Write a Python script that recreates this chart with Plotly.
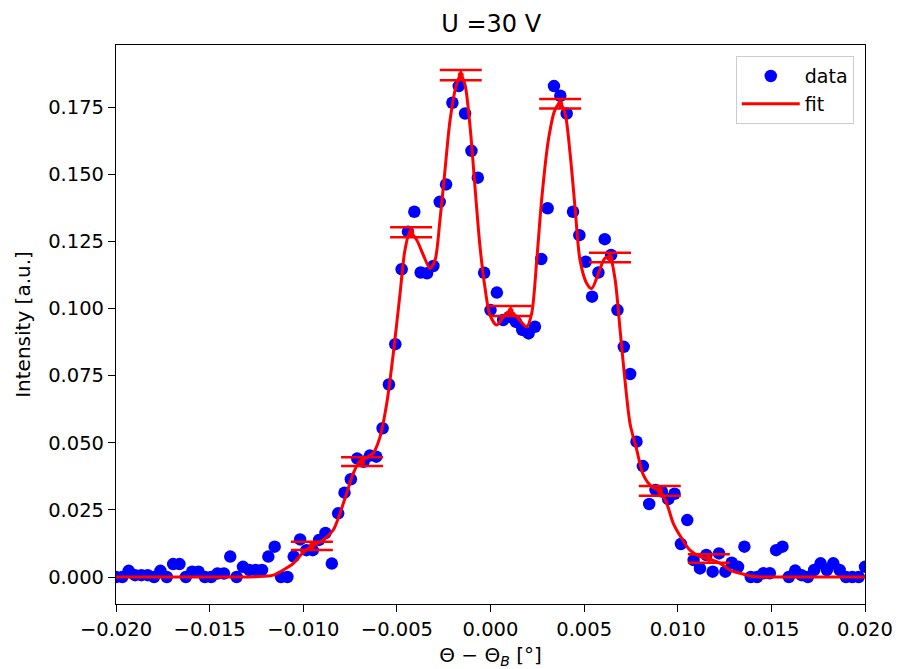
import numpy as np
import plotly.graph_objects as go

# measurement grid (degrees), 119 samples from -0.02 to 0.02
theta = np.linspace(-0.02, 0.02, 119)

intensity = [
    0.0, 0.0, 0.0023, 0.0007, 0.0007, 0.0007, 0.0, 0.0023, 0.0, 0.0048,
    0.0048, 0.0, 0.002, 0.002, 0.0, 0.0, 0.0013, 0.0013, 0.0076, 0.0,
    0.0038, 0.0026, 0.0026, 0.0026, 0.0076, 0.0113, 0.0, 0.0, 0.0076, 0.014,
    0.010, 0.010, 0.0138, 0.0164, 0.005, 0.0237, 0.0314, 0.0364, 0.0441, 0.0429,
    0.0452, 0.0448, 0.0554, 0.0717, 0.0867, 0.1146, 0.1286, 0.136, 0.1134, 0.1131,
    0.1158, 0.1397, 0.1462, 0.1766, 0.1828, 0.1726, 0.1587, 0.1487, 0.1133, 0.0994,
    0.1059, 0.0957, 0.0969, 0.095, 0.092, 0.0907, 0.0932, 0.1184, 0.1373, 0.1828,
    0.1792, 0.1726, 0.136, 0.1273, 0.1174, 0.1044, 0.1134, 0.1258, 0.1199, 0.0994,
    0.0857, 0.0756, 0.0504, 0.0413, 0.0272, 0.0324, 0.0318, 0.029, 0.031, 0.0123,
    0.0212, 0.0063, 0.0032, 0.0082, 0.002, 0.0088, 0.002, 0.0053, 0.0038, 0.0113,
    0.0, 0.0, 0.0014, 0.0014, 0.010, 0.0113, 0.0, 0.0024, 0.0007, 0.0,
    0.0026, 0.0051, 0.0026, 0.0051, 0.0026, 0.0, 0.0, 0.0, 0.0038,
]

fit_x = [
    -0.020, -0.0140, -0.0125, -0.0116, -0.01107, -0.01053, -0.0100, -0.00955,
    -0.00893, -0.0084, -0.00804, -0.00768, -0.00733, -0.00697, -0.00660, -0.00626,
    -0.0059, -0.00554, -0.00519, -0.00483, -0.00457, -0.0043, -0.00394, -0.00359,
    -0.00323, -0.00296, -0.0027, -0.00243, -0.00216, -0.0018, -0.00159, -0.00136,
    -0.00109, -0.00083, -0.00056, -0.00029, -0.00003, 0.00033, 0.00068, 0.00104,
    0.0014, 0.00193, 0.0022, 0.00247, 0.00273, 0.00309, 0.00344, 0.00371,
    0.00398, 0.00425, 0.00451, 0.00478, 0.00514, 0.0054, 0.00576, 0.00611,
    0.00638, 0.00665, 0.00692, 0.00718, 0.00745, 0.00781, 0.00816, 0.00861,
    0.00905, 0.00941, 0.00976, 0.01021, 0.01065, 0.01119, 0.01172, 0.01226,
    0.01279, 0.01332, 0.0138, 0.01422, 0.0150, 0.020,
]
fit_y = [
    0.0, 0.0, 0.0001, 0.0007, 0.0026, 0.0051, 0.0092, 0.0114,
    0.0138, 0.0175, 0.0237, 0.0312, 0.0386, 0.0432, 0.0445, 0.0462,
    0.0522, 0.0647, 0.0833, 0.1056, 0.1217, 0.1284, 0.1255, 0.1199,
    0.1149, 0.1180, 0.1329, 0.1515, 0.1701, 0.1838, 0.1869, 0.1832,
    0.1676, 0.1453, 0.1230, 0.1075, 0.0975, 0.0938, 0.0969, 0.0990,
    0.0969, 0.0932, 0.0982, 0.1180, 0.1404, 0.1627, 0.1739, 0.1763,
    0.1726, 0.1577, 0.1379, 0.1180, 0.1093, 0.1074, 0.1130, 0.1187,
    0.1190, 0.1110, 0.0920, 0.0733, 0.0572, 0.0473, 0.0380, 0.0336,
    0.0320, 0.0274, 0.0200, 0.0144, 0.0100, 0.0076, 0.0066, 0.0051,
    0.0026, 0.0014, 0.0005, 0.0001, 0.0, 0.0,
]

peak_x = [-0.00954, -0.00686, -0.00424, -0.00159, 0.00107, 0.00372, 0.00638, 0.00904, 0.01166]
peak_y = [0.0116, 0.04295, 0.12835, 0.1869, 0.09905, 0.17625, 0.11895, 0.0321, 0.0069]
peak_err = [0.00155, 0.00165, 0.00185, 0.0019, 0.00185, 0.00175, 0.00175, 0.0018, 0.00155]

x_ticks = [-0.020, -0.015, -0.010, -0.005, 0.000, 0.005, 0.010, 0.015, 0.020]
y_ticks = [0.000, 0.025, 0.050, 0.075, 0.100, 0.125, 0.150, 0.175]

FONT = "DejaVu Sans"

fig = go.Figure()
fig.add_trace(go.Scatter(
    x=theta, y=intensity, mode="markers", name="data",
    marker=dict(color="#0000ff", size=12.5, line=dict(width=0)),
))
fig.add_trace(go.Scatter(
    x=fit_x, y=fit_y, mode="lines", name="fit",
    line=dict(color="#ff0000", width=3, shape="spline", smoothing=0.8),
))
fig.add_trace(go.Scatter(
    x=peak_x, y=peak_y, mode="markers", showlegend=False,
    marker=dict(color="#ff0000", size=6),
    error_y=dict(type="data", array=peak_err, visible=True,
                 color="#ff0000", thickness=2.5, width=21),
))

axis_common = dict(
    showgrid=False, zeroline=False, showline=True, linecolor="black",
    linewidth=1.2, mirror=True, ticks="outside", ticklen=7, tickwidth=1.2,
    tickcolor="black", tickfont=dict(family=FONT, size=19.5, color="black"),
    automargin=False,
)

fig.update_layout(
    width=898, height=669,
    margin=dict(l=116, r=33, t=45, b=65),
    paper_bgcolor="white", plot_bgcolor="white",
    title=dict(text="U =30 V", x=0.547, xanchor="center", y=0.965, yanchor="middle",
               font=dict(family=FONT, size=24, color="black")),
    font=dict(family=FONT, color="black"),
    xaxis=dict(range=[-0.02, 0.02], tickvals=x_ticks,
               ticktext=[("\u2212" if v < 0 else "") + f"{abs(v):.3f}" for v in x_ticks],
               title=dict(text="\u0398 \u2212 \u0398<sub><i>B</i></sub> [\u00b0]",
                          font=dict(family=FONT, size=20), standoff=8),
               **axis_common),
    yaxis=dict(range=[-0.01005, 0.1981], tickvals=y_ticks,
               ticktext=[f"{v:.3f}" for v in y_ticks],
               title=dict(text="Intensity [a.u.]", font=dict(family=FONT, size=20), standoff=12),
               **axis_common),
    legend=dict(x=0.985, y=0.98, xanchor="right", yanchor="top",
                bgcolor="rgba(255,255,255,0.8)", bordercolor="#cccccc", borderwidth=1,
                font=dict(family=FONT, size=19, color="black"),
                itemwidth=58, tracegroupgap=0),
    showlegend=True,
)

fig.write_html("out.html")
